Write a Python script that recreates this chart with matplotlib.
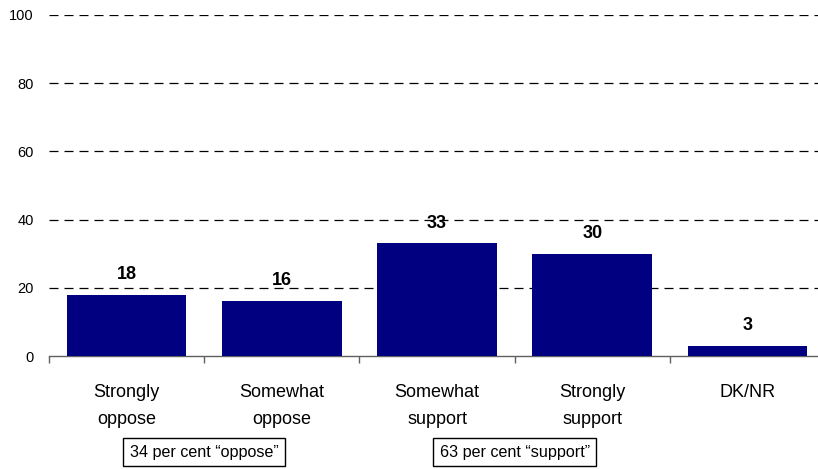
import matplotlib.pyplot as plt

plt.rcParams['font.family'] = ['Liberation Sans', 'DejaVu Sans']

categories = ["Strongly\noppose", "Somewhat\noppose", "Somewhat\nsupport", "Strongly\nsupport", "DK/NR"]
values = [18, 16, 33, 30, 3]
yticks = [0, 20, 40, 60, 80, 100]
group_labels = ["34 per cent \u201coppose\u201d", "63 per cent \u201csupport\u201d"]
group_positions = [0.5, 2.5]

fig = plt.figure(figsize=(8.18, 4.69), dpi=100)
ax = fig.add_axes([49 / 818, (469 - 356) / 469, (825 - 49) / 818, (356 - 15) / 469])

x = list(range(len(categories)))
ax.bar(x, values, width=0.77, color="#000080", zorder=3)

for xi, v in zip(x, values):
    ax.text(xi, v + 6, str(v), ha="center", va="center", fontsize=13,
            fontweight="bold", zorder=4)

ax.set_xlim(-0.5, len(categories) - 0.5)
ax.set_ylim(0, 100)
ax.set_yticks(yticks)
ax.set_yticklabels([str(t) for t in yticks], fontsize=10.5)
ax.tick_params(axis="y", length=0, pad=11)

for t in yticks[1:]:
    ax.axhline(t, color="black", lw=0.9, dashes=(7.2, 4.8), zorder=1)

# category separators as major ticks, names as minor ticks
ax.set_xticks([i - 0.5 for i in range(len(categories) + 1)])
ax.set_xticklabels([])
ax.tick_params(axis="x", length=5, width=1, color="#606060", direction="out")
ax.set_xticks(x, minor=True)
ax.set_xticklabels(categories, minor=True, fontsize=13, linespacing=1.75)
ax.tick_params(axis="x", which="minor", length=0, pad=20.5)

for side in ["top", "right", "left"]:
    ax.spines[side].set_visible(False)
ax.spines["bottom"].set_color("#606060")
ax.spines["bottom"].set_linewidth(1)

# boxed group summary labels below the category names
for label, pos in zip(group_labels, group_positions):
    ax.annotate(label, xy=(pos, 17 / 469), xycoords=("data", "figure fraction"),
                ha="center", va="center", fontsize=11.6,
                bbox=dict(boxstyle="square,pad=0.4", fc="white", ec="black", lw=1))

fig.savefig("out.png", dpi=100)
